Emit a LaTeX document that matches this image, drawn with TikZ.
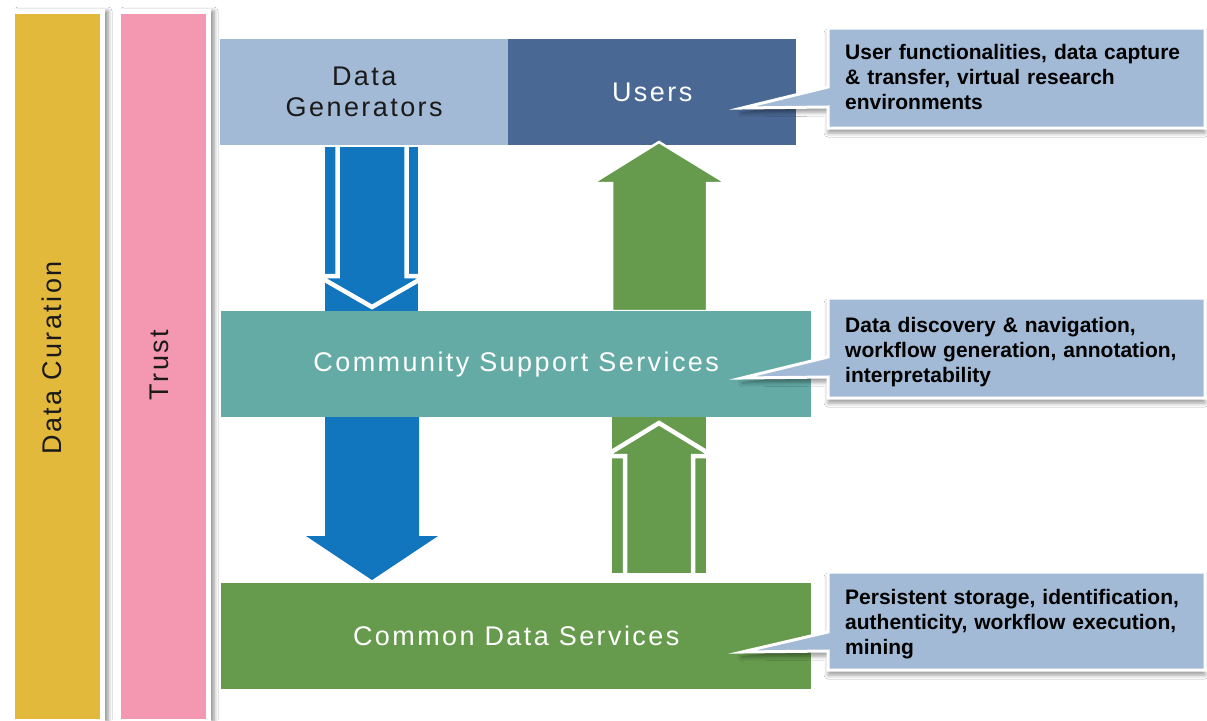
\documentclass[tikz,border=0pt]{standalone}
\usepackage{fontspec}
\setmainfont{Liberation Sans}
\newfontfamily\spaced{Liberation Sans}[LetterSpace=9]
\usetikzlibrary{shadows.blur}
\definecolor{cyellow}{HTML}{E3B93C}
\definecolor{cpink}{HTML}{F497B1}
\definecolor{clight}{HTML}{A2BAD5}
\definecolor{cusers}{HTML}{4A6894}
\definecolor{cteal}{HTML}{64ABA6}
\definecolor{cgreen}{HTML}{669A4C}
\definecolor{cblue}{HTML}{1176BD}
\definecolor{ctext}{HTML}{1A1A1A}
\newcommand\nohyphmine{\hyphenpenalty=10000\relax\exhyphenpenalty=10000\relax}
\begin{document}
\begin{tikzpicture}[x=1pt,y=-1pt,
  bar/.style={draw=white, line width=5pt, minimum width=90pt, minimum height=710pt, inner sep=0pt, anchor=north west,
    blur shadow={shadow xshift=6pt, shadow yshift=0pt, shadow blur radius=4pt, shadow opacity=45}},
  barlabel/.style={rotate=90, inner sep=0pt, font=\spaced\fontsize{27}{30}\selectfont, text=ctext},
  layer/.style={inner sep=0pt, anchor=north west, minimum height=106pt, font=\spaced\fontsize{27}{31}\selectfont, align=center, text=white},
  calltext/.style={anchor=north west, inner sep=0pt, text width=362pt, align=left,
    font=\bfseries\fontsize{21}{25}\selectfont, execute at begin node=\nohyphmine, text=black},
  callout/.style={fill=clight, draw=white, line width=3pt, line join=miter,
    blur shadow={shadow xshift=0pt, shadow yshift=-5pt, shadow blur radius=4pt, shadow opacity=40}},
  arrowline/.style={draw=white, line width=4.5pt, line join=miter}
]
\useasboundingbox[fill=white] (0,0) rectangle (1207,720);

% side bars
\node[bar, fill=cyellow] (cur) at (9.5,8.5) {};
\node[bar, fill=cpink] (tru) at (115.5,8.5) {};
\node[barlabel] (curl) at (52,358) {Data Curation};
\node[barlabel] (trul) at (159,365) {Trust};

% top layer
\node[layer, fill=clight, text=ctext, minimum width=288pt] (gen) at (220,39) {Data\\Generators};
\node[layer, fill=cusers, minimum width=288pt] (usr) at (508,39) {Users};

% top blue arrow (outlined)
\fill[cblue] (325,147) rectangle (418,311);
\begin{scope}
  \clip (325,147) rectangle (418,311);
  \draw[arrowline] (337.5,140) -- (337.5,276) -- (318,276) -- (372,307) -- (426,276) -- (406.5,276) -- (406.5,140);
\end{scope}

% top green arrow
\filldraw[fill=cgreen, draw=white, line width=2.5pt, line join=miter]
  (612,311) -- (612,183) -- (593,183) -- (659,142) -- (726,183) -- (707,183) -- (707,311) -- cycle;

% bottom green arrow (outlined)
\fill[cgreen] (612,417) rectangle (706,573);
\begin{scope}
  \clip (612,417) rectangle (706,573);
  \draw[arrowline] (625,580) -- (625,456) -- (605,456) -- (659,423) -- (713,456) -- (693,456) -- (693,580);
\end{scope}

% bottom blue arrow
\fill[cblue] (325,417) -- (325,536) -- (306,536) -- (372,580) -- (438,536) -- (419,536) -- (419,417) -- cycle;

% middle and bottom layers
\node[layer, fill=cteal, minimum width=590pt] (css) at (221,311) {Community Support Services};
\node[layer, fill=cgreen, minimum width=590pt] (cds) at (221,583) {Common Data Services};

% callouts
\coordinate (t1) at (742,108);
\coordinate (t2) at (742,378);
\coordinate (t3) at (742,652);
\path[callout] (828,28) -- (1205,28) -- (1205,128) -- (828,128) -- (828,107) -- (t1) -- (828,87) -- cycle;
\path[callout] (828,298) -- (1205,298) -- (1205,398) -- (828,398) -- (828,377) -- (t2) -- (828,357) -- cycle;
\path[callout] (828,572) -- (1205,572) -- (1205,670) -- (828,670) -- (828,651) -- (t3) -- (828,632) -- cycle;
\node[calltext] (c1) at (845,44) {User functionalities, data capture \& transfer, virtual research environments};
\node[calltext] (c2) at (845,317) {Data discovery \& navigation, workflow generation, annotation, interpretability};
\node[calltext] (c3) at (845,589) {Persistent storage, identification, authenticity, workflow execution, mining};
\end{tikzpicture}
\end{document}
